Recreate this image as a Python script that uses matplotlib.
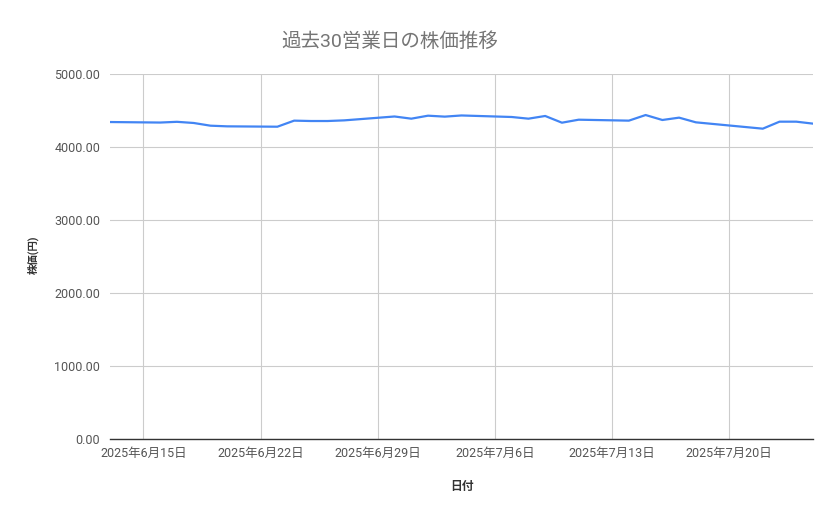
import datetime as dt
import matplotlib
matplotlib.use("Agg")
import matplotlib.pyplot as plt
import matplotlib.dates as mdates
from matplotlib.ticker import FuncFormatter, MultipleLocator

plt.rcParams['font.family'] = ['Roboto', 'Noto Sans CJK JP', 'DejaVu Sans']

# 営業日 (7/21 は祝日)
dates = [
    "2025-06-13", "2025-06-16", "2025-06-17", "2025-06-18", "2025-06-19", "2025-06-20",
    "2025-06-23", "2025-06-24", "2025-06-25", "2025-06-26", "2025-06-27",
    "2025-06-30", "2025-07-01", "2025-07-02", "2025-07-03", "2025-07-04",
    "2025-07-07", "2025-07-08", "2025-07-09", "2025-07-10", "2025-07-11",
    "2025-07-14", "2025-07-15", "2025-07-16", "2025-07-17", "2025-07-18",
    "2025-07-22", "2025-07-23", "2025-07-24", "2025-07-25",
]
prices = [
    4342, 4335, 4345, 4329, 4292, 4283,
    4278, 4361, 4356, 4356, 4365,
    4418, 4388, 4429, 4416, 4432,
    4411, 4388, 4425, 4333, 4374,
    4361, 4438, 4370, 4402, 4338,
    4251, 4347, 4347, 4320,
]
tick_dates = ["2025-06-15", "2025-06-22", "2025-06-29", "2025-07-06", "2025-07-13", "2025-07-20"]

x = [dt.datetime.strptime(d, "%Y-%m-%d") for d in dates]
ticks = [dt.datetime.strptime(d, "%Y-%m-%d") for d in tick_dates]

fig = plt.figure(figsize=(8.39, 5.19), dpi=100)
ax = fig.add_axes([110 / 839, 80 / 519, 703 / 839, 365 / 519])

ax.plot(x, prices, color="#4285F4", linewidth=1.6)

ax.set_xlim(x[0], x[-1])
ax.set_ylim(0, 5000)
ax.yaxis.set_major_locator(MultipleLocator(1000))
ax.yaxis.set_major_formatter(FuncFormatter(lambda v, p: f"{v:.2f}"))
ax.set_xticks(ticks)
ax.xaxis.set_major_formatter(FuncFormatter(
    lambda v, p: "{0}年{1}月{2}日".format(*[int(s) for s in mdates.num2date(v).strftime("%Y %m %d").split()])))

ax.grid(True, color="#cccccc", linewidth=0.8)
ax.set_axisbelow(True)
for s in ["top", "right", "left"]:
    ax.spines[s].set_visible(False)
ax.spines["bottom"].set_color("#333333")
ax.spines["bottom"].set_linewidth(1.0)
ax.tick_params(length=0, labelsize=9, colors="#555555")
ax.tick_params(axis="x", pad=6)
ax.tick_params(axis="y", pad=7)

fig.text(390 / 839, 1 - 42 / 519, "過去30営業日の株価推移", ha="center", va="center",
         fontsize=14, color="#757575")
fig.text(462 / 839, 1 - 486 / 519, "日付", ha="center", va="center", fontsize=8.5,
         color="#333333", fontweight="bold")
fig.text(33 / 839, 1 - 255 / 519, "株価(円)", ha="center", va="center", rotation=90,
         fontsize=7.5, color="#333333", fontweight="bold")

fig.savefig("out.png", dpi=100)
